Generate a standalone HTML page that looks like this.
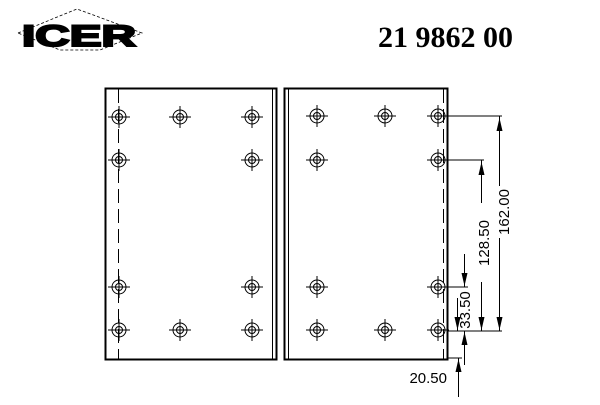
<!DOCTYPE html>
<html><head><style>body{margin:0;background:#fff}</style></head><body>
<svg width="600" height="400" xmlns="http://www.w3.org/2000/svg" font-family="Liberation Sans, sans-serif">
<defs>
<g id="h" fill="none" stroke="#000" stroke-width="1">
<circle r="7"/><circle r="3.5"/>
<line x1="-11" y1="0" x2="11" y2="0"/><line x1="0" y1="-11" x2="0" y2="11"/>
</g>
<path id="up" d="M0,0 L-3,13 L3,13 Z" fill="#000"/>
<path id="dn" d="M0,0 L-3,-13 L3,-13 Z" fill="#000"/>
</defs>
<!-- logo -->
<polygon points="18,33 77,9 142,33 100,50 60,50" fill="none" stroke="#000" stroke-dasharray="3,2" stroke-width="0.8"/>
<text x="22" y="46" font-size="30" font-weight="bold" textLength="114" lengthAdjust="spacingAndGlyphs" stroke="#000" stroke-width="2">ICER</text>
<text x="378" y="47" font-size="30" font-weight="bold" font-family="Liberation Serif, serif">21 9862 00</text>
<!-- left pad -->
<rect x="105.5" y="88.5" width="171" height="271" fill="none" stroke="#000" stroke-width="2"/>
<line x1="272.5" y1="89" x2="272.5" y2="359" stroke="#000"/>
<line x1="118.5" y1="89" x2="118.5" y2="359" stroke="#000" stroke-dasharray="14,6"/>
<!-- right pad -->
<rect x="284.5" y="88.5" width="163" height="271" fill="none" stroke="#000" stroke-width="2"/>
<line x1="288.5" y1="89" x2="288.5" y2="359" stroke="#000"/>
<line x1="443.5" y1="89" x2="443.5" y2="359" stroke="#000" stroke-dasharray="14,6"/>
<g>
<use href="#h" x="119" y="117"/><use href="#h" x="180" y="117"/><use href="#h" x="252" y="117"/>
<use href="#h" x="119" y="160"/><use href="#h" x="252" y="160"/>
<use href="#h" x="119" y="287"/><use href="#h" x="252" y="287"/>
<use href="#h" x="119" y="330"/><use href="#h" x="180" y="330"/><use href="#h" x="252" y="330"/>
<use href="#h" x="317" y="116"/><use href="#h" x="385" y="116"/><use href="#h" x="438" y="116"/>
<use href="#h" x="317" y="160"/><use href="#h" x="438" y="160"/>
<use href="#h" x="317" y="287"/><use href="#h" x="438" y="287"/>
<use href="#h" x="317" y="330"/><use href="#h" x="385" y="330"/><use href="#h" x="438" y="330"/>
</g>
<g stroke="#000" stroke-width="1" fill="none">
<line x1="448" y1="116" x2="502" y2="116"/>
<line x1="448" y1="160" x2="484" y2="160"/>
<line x1="448" y1="287" x2="468" y2="287"/>
<line x1="448" y1="331" x2="502" y2="331"/>
<line x1="448" y1="358" x2="462" y2="358"/>
<line x1="499.5" y1="116" x2="499.5" y2="186"/>
<line x1="499.5" y1="238" x2="499.5" y2="331"/>
<line x1="481.5" y1="160" x2="481.5" y2="203"/>
<line x1="481.5" y1="282" x2="481.5" y2="331"/>
<line x1="464.5" y1="254" x2="464.5" y2="287"/>
<line x1="464.5" y1="365" x2="464.5" y2="331"/>
<line x1="458.5" y1="397" x2="458.5" y2="358"/>
<line x1="457.5" y1="298" x2="457.5" y2="331"/>
</g>
<use href="#up" x="499.5" y="118"/><use href="#dn" x="499.5" y="330"/>
<use href="#up" x="481.5" y="162"/><use href="#dn" x="481.5" y="330"/>
<use href="#dn" x="464.5" y="286"/><use href="#up" x="464.5" y="332"/>
<use href="#dn" x="457.5" y="330"/><use href="#up" x="458.5" y="359"/>
<g font-size="15" fill="#000">
<text transform="translate(505,212) rotate(-90)" text-anchor="middle" dominant-baseline="middle">162.00</text>
<text transform="translate(485,243) rotate(-90)" text-anchor="middle" dominant-baseline="middle">128.50</text>
<text transform="translate(466,310) rotate(-90)" text-anchor="middle" dominant-baseline="middle">33.50</text>
<text x="447" y="383" text-anchor="end">20.50</text>
</g>
</svg>
</body></html>
